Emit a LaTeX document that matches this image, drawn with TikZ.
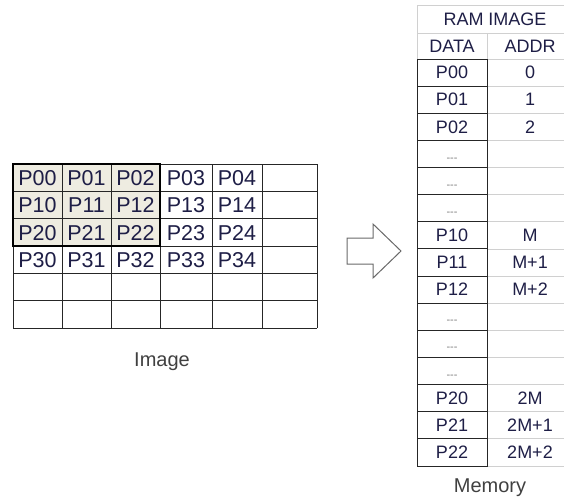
\documentclass[tikz,border=0pt]{standalone}
\usepackage{fontspec}
\setmainfont{Liberation Sans}
\usetikzlibrary{positioning}
\definecolor{InkBlue}{RGB}{30,30,70}
\definecolor{CellBeige}{RGB}{238,236,225}
\definecolor{LineGrey}{RGB}{208,208,208}
\definecolor{ArrowGrey}{RGB}{105,105,105}
\tikzset{
  pixel/.style={font=\fontsize{21.5}{23}\selectfont,text=InkBlue,inner sep=0pt},
  memtext/.style={font=\fontsize{18}{20}\selectfont,text=InkBlue,inner sep=0pt},
  gapdots/.style={font=\fontsize{11}{12}\selectfont,text=gray,inner sep=0pt},
  gridline/.style={draw=black!85,line width=0.9pt},
  blockline/.style={draw=black,line width=1.8pt},
  softline/.style={draw=LineGrey,line width=0.8pt},
  caption/.style={font=\fontsize{20}{22}\selectfont,text=black!75,inner sep=0pt}
}

\begin{document}
\begin{tikzpicture}[x=1pt,y=-1pt]
  \useasboundingbox (0,0) rectangle (564,501);
  % image grid
  \fill[CellBeige] (13,164) rectangle (160,246);
  \foreach \x in {13,62,111,160,212,262,317}
    \draw[gridline] (\x,164) -- (\x,328);
  \foreach \y in {164,191.3,218.7,246,273.3,300.7,328}
    \draw[gridline] (13,\y) -- (317,\y);
  \draw[blockline] (13,164) rectangle (160,246);
  \foreach \r/\ry in {0/178,1/205.3,2/232.7,3/260}
    \foreach \c/\cx in {0/37.5,1/86.5,2/135.5,3/186,4/237}
      \node[pixel] (p\r\c) at (\cx,\ry) {P\r\c};
  \node[caption] (imglabel) at (162,362) {Image};

  % block arrow
  \draw[ArrowGrey,line width=1pt,fill=white]
    (347,238) -- (373,238) -- (373,224) -- (401,251) --
    (373,278) -- (373,264) -- (347,264) -- cycle;

  % memory table
  \draw[softline] (417,5) -- (564,5);
  \draw[softline] (417,33) -- (564,33);
  \draw[softline] (417,5) -- (417,59);
  \draw[softline] (487,33) -- (487,59);
  \node[memtext] (ramhead) at (495,19) {RAM IMAGE};
  \node[memtext] (datahead) at (452,46.5) {DATA};
  \node[memtext] (addrhead) at (530,46.5) {ADDR};
  \foreach \i in {0,...,15}{
    \pgfmathsetmacro\ly{59+\i*27.13}
    \draw[softline] (487,\ly) -- (564,\ly);
  }
  \foreach \i in {1,...,14}{
    \pgfmathsetmacro\ly{59+\i*27.13}
    \draw[gridline] (417,\ly) -- (487,\ly);
  }
  \draw[gridline] (417,59) rectangle (487,466);
  \foreach \i/\d/\a in {1/P00/0,2/P01/1,3/P02/2,7/P10/M,8/P11/M+1,
      9/P12/M+2,13/P20/2M,14/P21/2M+1,15/P22/2M+2}{
    \pgfmathsetmacro\ry{59+(\i-0.5)*27.13}
    \node[memtext] (data\i) at (452,\ry) {\d};
    \node[memtext] (addr\i) at (530,\ry) {\a};
  }
  \foreach \i in {4,5,6,10,11,12}{
    \pgfmathsetmacro\ry{59+(\i-1)*27.13+19}
    \node[gapdots] (gap\i) at (452,\ry) {-{}-{}-};
  }
  \node[caption] (memlabel) at (490,488) {Memory};
\end{tikzpicture}
\end{document}
